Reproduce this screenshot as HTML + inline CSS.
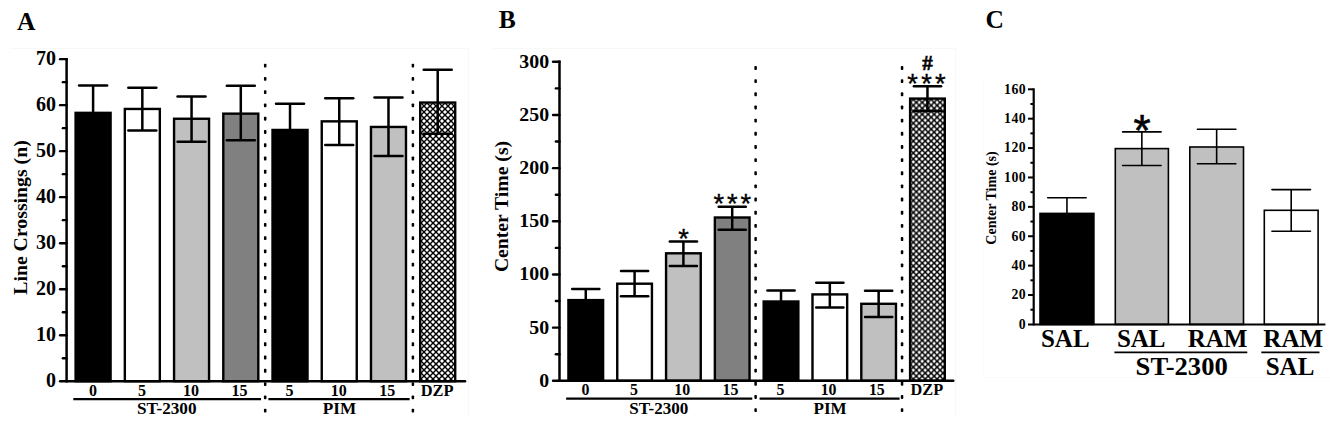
<!DOCTYPE html>
<html><head><meta charset="utf-8"><title>Figure</title>
<style>
html,body{margin:0;padding:0;background:#fff;}
svg{display:block;font-family:"Liberation Serif","Times New Roman",serif;font-weight:bold;fill:#000;}
</style></head><body>
<svg width="1330" height="425" viewBox="0 0 1330 425">
<defs>
<pattern id="hatch" width="6" height="6" patternUnits="userSpaceOnUse" x="1" y="4">
<rect width="6" height="6" fill="#000"/>
<path d="M3,1 L5,3 L3,5 L1,3 Z M0,-2 L2,0 L0,2 L-2,0 Z M6,-2 L8,0 L6,2 L4,0 Z M0,4 L2,6 L0,8 L-2,6 Z M6,4 L8,6 L6,8 L4,6 Z" fill="#fff"/>
</pattern>
<pattern id="hatchB" width="5.95" height="5.95" patternUnits="userSpaceOnUse" x="0" y="4.25">
<rect width="6" height="6" fill="#000"/>
<path d="M3,1.1 L4.9,3 L3,4.9 L1.1,3 Z M0,-1.9 L1.9,0 L0,1.9 L-1.9,0 Z M6,-1.9 L7.9,0 L6,1.9 L4.1,0 Z M0,4.1 L1.9,6 L0,7.9 L-1.9,6 Z M6,4.1 L7.9,6 L6,7.9 L4.1,6 Z" fill="#fff" transform="scale(0.9917)"/>
</pattern>
</defs>
<rect width="1330" height="425" fill="#fff"/>
<g fill="none" stroke="#f8f8f8" stroke-width="1">
<path d="M10,48.5 H468.5 V417"/>
<path d="M492,48.5 H955.5 V417"/>
<path d="M983.5,81 V377.5 H1330" stroke="#fbfbfb"/>
</g>

<rect x="263.95" y="63.65" width="2.5" height="3.9" rx="0.8" fill="#000"/>
<rect x="263.95" y="76.92" width="2.5" height="3.9" rx="0.8" fill="#000"/>
<rect x="263.95" y="90.19" width="2.5" height="3.9" rx="0.8" fill="#000"/>
<rect x="263.95" y="103.46" width="2.5" height="3.9" rx="0.8" fill="#000"/>
<rect x="263.95" y="116.73" width="2.5" height="3.9" rx="0.8" fill="#000"/>
<rect x="263.95" y="130.00" width="2.5" height="3.9" rx="0.8" fill="#000"/>
<rect x="263.95" y="143.27" width="2.5" height="3.9" rx="0.8" fill="#000"/>
<rect x="263.95" y="156.54" width="2.5" height="3.9" rx="0.8" fill="#000"/>
<rect x="263.95" y="169.81" width="2.5" height="3.9" rx="0.8" fill="#000"/>
<rect x="263.95" y="183.08" width="2.5" height="3.9" rx="0.8" fill="#000"/>
<rect x="263.95" y="196.35" width="2.5" height="3.9" rx="0.8" fill="#000"/>
<rect x="263.95" y="209.62" width="2.5" height="3.9" rx="0.8" fill="#000"/>
<rect x="263.95" y="222.89" width="2.5" height="3.9" rx="0.8" fill="#000"/>
<rect x="263.95" y="236.16" width="2.5" height="3.9" rx="0.8" fill="#000"/>
<rect x="263.95" y="249.43" width="2.5" height="3.9" rx="0.8" fill="#000"/>
<rect x="263.95" y="262.70" width="2.5" height="3.9" rx="0.8" fill="#000"/>
<rect x="263.95" y="275.97" width="2.5" height="3.9" rx="0.8" fill="#000"/>
<rect x="263.95" y="289.24" width="2.5" height="3.9" rx="0.8" fill="#000"/>
<rect x="263.95" y="302.51" width="2.5" height="3.9" rx="0.8" fill="#000"/>
<rect x="263.95" y="315.78" width="2.5" height="3.9" rx="0.8" fill="#000"/>
<rect x="263.95" y="329.05" width="2.5" height="3.9" rx="0.8" fill="#000"/>
<rect x="263.95" y="342.32" width="2.5" height="3.9" rx="0.8" fill="#000"/>
<rect x="263.95" y="355.59" width="2.5" height="3.9" rx="0.8" fill="#000"/>
<rect x="263.95" y="368.86" width="2.5" height="3.9" rx="0.8" fill="#000"/>
<rect x="263.95" y="382.13" width="2.5" height="3.9" rx="0.8" fill="#000"/>
<rect x="263.95" y="395.40" width="2.5" height="3.9" rx="0.8" fill="#000"/>
<rect x="263.95" y="408.67" width="2.5" height="3.9" rx="0.8" fill="#000"/>
<rect x="411.65" y="63.65" width="2.5" height="3.9" rx="0.8" fill="#000"/>
<rect x="411.65" y="76.92" width="2.5" height="3.9" rx="0.8" fill="#000"/>
<rect x="411.65" y="90.19" width="2.5" height="3.9" rx="0.8" fill="#000"/>
<rect x="411.65" y="103.46" width="2.5" height="3.9" rx="0.8" fill="#000"/>
<rect x="411.65" y="116.73" width="2.5" height="3.9" rx="0.8" fill="#000"/>
<rect x="411.65" y="130.00" width="2.5" height="3.9" rx="0.8" fill="#000"/>
<rect x="411.65" y="143.27" width="2.5" height="3.9" rx="0.8" fill="#000"/>
<rect x="411.65" y="156.54" width="2.5" height="3.9" rx="0.8" fill="#000"/>
<rect x="411.65" y="169.81" width="2.5" height="3.9" rx="0.8" fill="#000"/>
<rect x="411.65" y="183.08" width="2.5" height="3.9" rx="0.8" fill="#000"/>
<rect x="411.65" y="196.35" width="2.5" height="3.9" rx="0.8" fill="#000"/>
<rect x="411.65" y="209.62" width="2.5" height="3.9" rx="0.8" fill="#000"/>
<rect x="411.65" y="222.89" width="2.5" height="3.9" rx="0.8" fill="#000"/>
<rect x="411.65" y="236.16" width="2.5" height="3.9" rx="0.8" fill="#000"/>
<rect x="411.65" y="249.43" width="2.5" height="3.9" rx="0.8" fill="#000"/>
<rect x="411.65" y="262.70" width="2.5" height="3.9" rx="0.8" fill="#000"/>
<rect x="411.65" y="275.97" width="2.5" height="3.9" rx="0.8" fill="#000"/>
<rect x="411.65" y="289.24" width="2.5" height="3.9" rx="0.8" fill="#000"/>
<rect x="411.65" y="302.51" width="2.5" height="3.9" rx="0.8" fill="#000"/>
<rect x="411.65" y="315.78" width="2.5" height="3.9" rx="0.8" fill="#000"/>
<rect x="411.65" y="329.05" width="2.5" height="3.9" rx="0.8" fill="#000"/>
<rect x="411.65" y="342.32" width="2.5" height="3.9" rx="0.8" fill="#000"/>
<rect x="411.65" y="355.59" width="2.5" height="3.9" rx="0.8" fill="#000"/>
<rect x="411.65" y="368.86" width="2.5" height="3.9" rx="0.8" fill="#000"/>
<rect x="411.65" y="382.13" width="2.5" height="3.9" rx="0.8" fill="#000"/>
<rect x="411.65" y="395.40" width="2.5" height="3.9" rx="0.8" fill="#000"/>
<rect x="411.65" y="408.67" width="2.5" height="3.9" rx="0.8" fill="#000"/>
<rect x="75.60" y="112.85" width="35.00" height="268.35" fill="#000" stroke="#000" stroke-width="2.4"/>
<line x1="93.10" y1="85.40" x2="93.10" y2="112.50" stroke="#000" stroke-width="2.5" stroke-linecap="butt"/>
<line x1="79.10" y1="85.40" x2="107.10" y2="85.40" stroke="#000" stroke-width="2.5" stroke-linecap="round"/>
<rect x="124.83" y="108.95" width="35.00" height="272.25" fill="#fff" stroke="#000" stroke-width="2.4"/>
<line x1="142.33" y1="87.65" x2="142.33" y2="130.50" stroke="#000" stroke-width="2.5" stroke-linecap="butt"/>
<line x1="128.33" y1="87.65" x2="156.33" y2="87.65" stroke="#000" stroke-width="2.5" stroke-linecap="round"/>
<line x1="128.33" y1="130.50" x2="156.33" y2="130.50" stroke="#000" stroke-width="2.5" stroke-linecap="round"/>
<rect x="174.06" y="118.75" width="35.00" height="262.45" fill="#c0c0c0" stroke="#000" stroke-width="2.4"/>
<line x1="191.56" y1="96.50" x2="191.56" y2="141.80" stroke="#000" stroke-width="2.5" stroke-linecap="butt"/>
<line x1="177.56" y1="96.50" x2="205.56" y2="96.50" stroke="#000" stroke-width="2.5" stroke-linecap="round"/>
<line x1="177.56" y1="141.80" x2="205.56" y2="141.80" stroke="#000" stroke-width="2.5" stroke-linecap="round"/>
<rect x="223.29" y="113.65" width="35.00" height="267.55" fill="#808080" stroke="#000" stroke-width="2.4"/>
<line x1="240.79" y1="85.70" x2="240.79" y2="140.30" stroke="#000" stroke-width="2.5" stroke-linecap="butt"/>
<line x1="226.79" y1="85.70" x2="254.79" y2="85.70" stroke="#000" stroke-width="2.5" stroke-linecap="round"/>
<line x1="226.79" y1="140.30" x2="254.79" y2="140.30" stroke="#000" stroke-width="2.5" stroke-linecap="round"/>
<rect x="272.52" y="129.95" width="35.00" height="251.25" fill="#000" stroke="#000" stroke-width="2.4"/>
<line x1="290.02" y1="103.70" x2="290.02" y2="129.60" stroke="#000" stroke-width="2.5" stroke-linecap="butt"/>
<line x1="276.02" y1="103.70" x2="304.02" y2="103.70" stroke="#000" stroke-width="2.5" stroke-linecap="round"/>
<rect x="321.75" y="121.35" width="35.00" height="259.85" fill="#fff" stroke="#000" stroke-width="2.4"/>
<line x1="339.25" y1="98.30" x2="339.25" y2="144.90" stroke="#000" stroke-width="2.5" stroke-linecap="butt"/>
<line x1="325.25" y1="98.30" x2="353.25" y2="98.30" stroke="#000" stroke-width="2.5" stroke-linecap="round"/>
<line x1="325.25" y1="144.90" x2="353.25" y2="144.90" stroke="#000" stroke-width="2.5" stroke-linecap="round"/>
<rect x="370.98" y="126.95" width="35.00" height="254.25" fill="#c0c0c0" stroke="#000" stroke-width="2.4"/>
<line x1="388.48" y1="97.50" x2="388.48" y2="155.90" stroke="#000" stroke-width="2.5" stroke-linecap="butt"/>
<line x1="374.48" y1="97.50" x2="402.48" y2="97.50" stroke="#000" stroke-width="2.5" stroke-linecap="round"/>
<line x1="374.48" y1="155.90" x2="402.48" y2="155.90" stroke="#000" stroke-width="2.5" stroke-linecap="round"/>
<rect x="420.21" y="102.55" width="35.00" height="278.65" fill="url(#hatch)" stroke="#000" stroke-width="2.4"/>
<line x1="437.71" y1="69.70" x2="437.71" y2="133.70" stroke="#000" stroke-width="2.5" stroke-linecap="butt"/>
<line x1="423.71" y1="69.70" x2="451.71" y2="69.70" stroke="#000" stroke-width="2.5" stroke-linecap="round"/>
<line x1="423.71" y1="133.70" x2="451.71" y2="133.70" stroke="#000" stroke-width="2.5" stroke-linecap="round"/>
<line x1="66.60" y1="57.90" x2="66.60" y2="382.45" stroke="#000" stroke-width="2.5" stroke-linecap="butt"/>
<line x1="60.10" y1="381.20" x2="465.00" y2="381.20" stroke="#000" stroke-width="2.5" stroke-linecap="round"/>
<text x="56.10" y="387.20" font-size="20.0" text-anchor="end" >0</text>
<line x1="62.90" y1="358.20" x2="66.60" y2="358.20" stroke="#000" stroke-width="2.4" stroke-linecap="round"/>
<line x1="60.10" y1="335.19" x2="66.60" y2="335.19" stroke="#000" stroke-width="2.4" stroke-linecap="round"/>
<text x="56.10" y="341.19" font-size="20.0" text-anchor="end" >10</text>
<line x1="62.90" y1="312.19" x2="66.60" y2="312.19" stroke="#000" stroke-width="2.4" stroke-linecap="round"/>
<line x1="60.10" y1="289.19" x2="66.60" y2="289.19" stroke="#000" stroke-width="2.4" stroke-linecap="round"/>
<text x="56.10" y="295.19" font-size="20.0" text-anchor="end" >20</text>
<line x1="62.90" y1="266.18" x2="66.60" y2="266.18" stroke="#000" stroke-width="2.4" stroke-linecap="round"/>
<line x1="60.10" y1="243.18" x2="66.60" y2="243.18" stroke="#000" stroke-width="2.4" stroke-linecap="round"/>
<text x="56.10" y="249.18" font-size="20.0" text-anchor="end" >30</text>
<line x1="62.90" y1="220.17" x2="66.60" y2="220.17" stroke="#000" stroke-width="2.4" stroke-linecap="round"/>
<line x1="60.10" y1="197.17" x2="66.60" y2="197.17" stroke="#000" stroke-width="2.4" stroke-linecap="round"/>
<text x="56.10" y="203.17" font-size="20.0" text-anchor="end" >40</text>
<line x1="62.90" y1="174.17" x2="66.60" y2="174.17" stroke="#000" stroke-width="2.4" stroke-linecap="round"/>
<line x1="60.10" y1="151.16" x2="66.60" y2="151.16" stroke="#000" stroke-width="2.4" stroke-linecap="round"/>
<text x="56.10" y="157.16" font-size="20.0" text-anchor="end" >50</text>
<line x1="62.90" y1="128.16" x2="66.60" y2="128.16" stroke="#000" stroke-width="2.4" stroke-linecap="round"/>
<line x1="60.10" y1="105.16" x2="66.60" y2="105.16" stroke="#000" stroke-width="2.4" stroke-linecap="round"/>
<text x="56.10" y="111.16" font-size="20.0" text-anchor="end" >60</text>
<line x1="62.90" y1="82.15" x2="66.60" y2="82.15" stroke="#000" stroke-width="2.4" stroke-linecap="round"/>
<line x1="60.10" y1="59.15" x2="66.60" y2="59.15" stroke="#000" stroke-width="2.4" stroke-linecap="round"/>
<text x="56.10" y="65.15" font-size="20.0" text-anchor="end" >70</text>
<text x="93.10" y="395.80" font-size="16.0" text-anchor="middle" >0</text>
<text x="141.93" y="395.80" font-size="16.0" text-anchor="middle" >5</text>
<text x="190.96" y="395.80" font-size="16.0" text-anchor="middle" >10</text>
<text x="239.59" y="395.80" font-size="16.0" text-anchor="middle" >15</text>
<text x="289.62" y="395.80" font-size="16.0" text-anchor="middle" >5</text>
<text x="338.65" y="395.80" font-size="16.0" text-anchor="middle" >10</text>
<text x="387.28" y="395.80" font-size="16.0" text-anchor="middle" >15</text>
<text x="437.11" y="395.80" font-size="16.4" text-anchor="middle" >DZP</text>
<line x1="73.30" y1="399.10" x2="261.00" y2="399.10" stroke="#000" stroke-width="2.2" stroke-linecap="butt"/>
<line x1="268.40" y1="399.10" x2="409.60" y2="399.10" stroke="#000" stroke-width="2.2" stroke-linecap="butt"/>
<text x="166.80" y="414.20" font-size="17.2" text-anchor="middle" >ST-2300</text>
<text x="339.50" y="414.20" font-size="17.2" text-anchor="middle" >PIM</text>
<text transform="translate(26.90,217.50) rotate(-90)" font-size="18.8" text-anchor="middle" textLength="154.6" lengthAdjust="spacingAndGlyphs">Line Crossings (n)</text>
<text x="17.00" y="29.60" font-size="25.5" text-anchor="start" >A</text>
<rect x="754.36" y="66.05" width="2.5" height="3.9" rx="0.8" fill="#000"/>
<rect x="754.36" y="79.21" width="2.5" height="3.9" rx="0.8" fill="#000"/>
<rect x="754.36" y="92.36" width="2.5" height="3.9" rx="0.8" fill="#000"/>
<rect x="754.36" y="105.52" width="2.5" height="3.9" rx="0.8" fill="#000"/>
<rect x="754.36" y="118.68" width="2.5" height="3.9" rx="0.8" fill="#000"/>
<rect x="754.36" y="131.84" width="2.5" height="3.9" rx="0.8" fill="#000"/>
<rect x="754.36" y="144.99" width="2.5" height="3.9" rx="0.8" fill="#000"/>
<rect x="754.36" y="158.15" width="2.5" height="3.9" rx="0.8" fill="#000"/>
<rect x="754.36" y="171.31" width="2.5" height="3.9" rx="0.8" fill="#000"/>
<rect x="754.36" y="184.46" width="2.5" height="3.9" rx="0.8" fill="#000"/>
<rect x="754.36" y="197.62" width="2.5" height="3.9" rx="0.8" fill="#000"/>
<rect x="754.36" y="210.78" width="2.5" height="3.9" rx="0.8" fill="#000"/>
<rect x="754.36" y="223.94" width="2.5" height="3.9" rx="0.8" fill="#000"/>
<rect x="754.36" y="237.09" width="2.5" height="3.9" rx="0.8" fill="#000"/>
<rect x="754.36" y="250.25" width="2.5" height="3.9" rx="0.8" fill="#000"/>
<rect x="754.36" y="263.41" width="2.5" height="3.9" rx="0.8" fill="#000"/>
<rect x="754.36" y="276.57" width="2.5" height="3.9" rx="0.8" fill="#000"/>
<rect x="754.36" y="289.72" width="2.5" height="3.9" rx="0.8" fill="#000"/>
<rect x="754.36" y="302.88" width="2.5" height="3.9" rx="0.8" fill="#000"/>
<rect x="754.36" y="316.04" width="2.5" height="3.9" rx="0.8" fill="#000"/>
<rect x="754.36" y="329.19" width="2.5" height="3.9" rx="0.8" fill="#000"/>
<rect x="754.36" y="342.35" width="2.5" height="3.9" rx="0.8" fill="#000"/>
<rect x="754.36" y="355.51" width="2.5" height="3.9" rx="0.8" fill="#000"/>
<rect x="754.36" y="368.67" width="2.5" height="3.9" rx="0.8" fill="#000"/>
<rect x="754.36" y="381.82" width="2.5" height="3.9" rx="0.8" fill="#000"/>
<rect x="754.36" y="394.98" width="2.5" height="3.9" rx="0.8" fill="#000"/>
<rect x="754.36" y="408.14" width="2.5" height="3.9" rx="0.8" fill="#000"/>
<rect x="900.81" y="66.05" width="2.5" height="3.9" rx="0.8" fill="#000"/>
<rect x="900.81" y="79.21" width="2.5" height="3.9" rx="0.8" fill="#000"/>
<rect x="900.81" y="92.36" width="2.5" height="3.9" rx="0.8" fill="#000"/>
<rect x="900.81" y="105.52" width="2.5" height="3.9" rx="0.8" fill="#000"/>
<rect x="900.81" y="118.68" width="2.5" height="3.9" rx="0.8" fill="#000"/>
<rect x="900.81" y="131.84" width="2.5" height="3.9" rx="0.8" fill="#000"/>
<rect x="900.81" y="144.99" width="2.5" height="3.9" rx="0.8" fill="#000"/>
<rect x="900.81" y="158.15" width="2.5" height="3.9" rx="0.8" fill="#000"/>
<rect x="900.81" y="171.31" width="2.5" height="3.9" rx="0.8" fill="#000"/>
<rect x="900.81" y="184.46" width="2.5" height="3.9" rx="0.8" fill="#000"/>
<rect x="900.81" y="197.62" width="2.5" height="3.9" rx="0.8" fill="#000"/>
<rect x="900.81" y="210.78" width="2.5" height="3.9" rx="0.8" fill="#000"/>
<rect x="900.81" y="223.94" width="2.5" height="3.9" rx="0.8" fill="#000"/>
<rect x="900.81" y="237.09" width="2.5" height="3.9" rx="0.8" fill="#000"/>
<rect x="900.81" y="250.25" width="2.5" height="3.9" rx="0.8" fill="#000"/>
<rect x="900.81" y="263.41" width="2.5" height="3.9" rx="0.8" fill="#000"/>
<rect x="900.81" y="276.57" width="2.5" height="3.9" rx="0.8" fill="#000"/>
<rect x="900.81" y="289.72" width="2.5" height="3.9" rx="0.8" fill="#000"/>
<rect x="900.81" y="302.88" width="2.5" height="3.9" rx="0.8" fill="#000"/>
<rect x="900.81" y="316.04" width="2.5" height="3.9" rx="0.8" fill="#000"/>
<rect x="900.81" y="329.19" width="2.5" height="3.9" rx="0.8" fill="#000"/>
<rect x="900.81" y="342.35" width="2.5" height="3.9" rx="0.8" fill="#000"/>
<rect x="900.81" y="355.51" width="2.5" height="3.9" rx="0.8" fill="#000"/>
<rect x="900.81" y="368.67" width="2.5" height="3.9" rx="0.8" fill="#000"/>
<rect x="900.81" y="381.82" width="2.5" height="3.9" rx="0.8" fill="#000"/>
<rect x="900.81" y="394.98" width="2.5" height="3.9" rx="0.8" fill="#000"/>
<rect x="900.81" y="408.14" width="2.5" height="3.9" rx="0.8" fill="#000"/>
<rect x="568.43" y="300.10" width="34.68" height="80.70" fill="#000" stroke="#000" stroke-width="2.4"/>
<line x1="585.77" y1="289.10" x2="585.77" y2="299.90" stroke="#000" stroke-width="2.5" stroke-linecap="butt"/>
<line x1="572.17" y1="289.10" x2="599.37" y2="289.10" stroke="#000" stroke-width="2.5" stroke-linecap="round"/>
<rect x="617.25" y="283.70" width="34.68" height="97.10" fill="#fff" stroke="#000" stroke-width="2.4"/>
<line x1="634.59" y1="270.90" x2="634.59" y2="296.30" stroke="#000" stroke-width="2.5" stroke-linecap="butt"/>
<line x1="620.99" y1="270.90" x2="648.19" y2="270.90" stroke="#000" stroke-width="2.5" stroke-linecap="round"/>
<line x1="620.99" y1="296.30" x2="648.19" y2="296.30" stroke="#000" stroke-width="2.5" stroke-linecap="round"/>
<rect x="666.06" y="253.30" width="34.68" height="127.50" fill="#c0c0c0" stroke="#000" stroke-width="2.4"/>
<line x1="683.40" y1="241.40" x2="683.40" y2="265.90" stroke="#000" stroke-width="2.5" stroke-linecap="butt"/>
<line x1="669.80" y1="241.40" x2="697.00" y2="241.40" stroke="#000" stroke-width="2.5" stroke-linecap="round"/>
<line x1="669.80" y1="265.90" x2="697.00" y2="265.90" stroke="#000" stroke-width="2.5" stroke-linecap="round"/>
<rect x="714.87" y="217.50" width="34.68" height="163.30" fill="#808080" stroke="#000" stroke-width="2.4"/>
<line x1="732.21" y1="206.80" x2="732.21" y2="229.70" stroke="#000" stroke-width="2.5" stroke-linecap="butt"/>
<line x1="718.61" y1="206.80" x2="745.81" y2="206.80" stroke="#000" stroke-width="2.5" stroke-linecap="round"/>
<line x1="718.61" y1="229.70" x2="745.81" y2="229.70" stroke="#000" stroke-width="2.5" stroke-linecap="round"/>
<rect x="763.68" y="301.50" width="34.68" height="79.30" fill="#000" stroke="#000" stroke-width="2.4"/>
<line x1="781.02" y1="290.40" x2="781.02" y2="301.30" stroke="#000" stroke-width="2.5" stroke-linecap="butt"/>
<line x1="767.42" y1="290.40" x2="794.62" y2="290.40" stroke="#000" stroke-width="2.5" stroke-linecap="round"/>
<rect x="812.49" y="294.40" width="34.68" height="86.40" fill="#fff" stroke="#000" stroke-width="2.4"/>
<line x1="829.83" y1="282.70" x2="829.83" y2="307.50" stroke="#000" stroke-width="2.5" stroke-linecap="butt"/>
<line x1="816.23" y1="282.70" x2="843.43" y2="282.70" stroke="#000" stroke-width="2.5" stroke-linecap="round"/>
<line x1="816.23" y1="307.50" x2="843.43" y2="307.50" stroke="#000" stroke-width="2.5" stroke-linecap="round"/>
<rect x="861.30" y="303.80" width="34.68" height="77.00" fill="#c0c0c0" stroke="#000" stroke-width="2.4"/>
<line x1="878.64" y1="290.80" x2="878.64" y2="317.10" stroke="#000" stroke-width="2.5" stroke-linecap="butt"/>
<line x1="865.04" y1="290.80" x2="892.24" y2="290.80" stroke="#000" stroke-width="2.5" stroke-linecap="round"/>
<line x1="865.04" y1="317.10" x2="892.24" y2="317.10" stroke="#000" stroke-width="2.5" stroke-linecap="round"/>
<rect x="910.11" y="98.60" width="34.68" height="282.20" fill="url(#hatchB)" stroke="#000" stroke-width="2.4"/>
<line x1="927.46" y1="86.25" x2="927.46" y2="111.10" stroke="#000" stroke-width="2.5" stroke-linecap="butt"/>
<line x1="913.86" y1="86.25" x2="941.06" y2="86.25" stroke="#000" stroke-width="2.5" stroke-linecap="round"/>
<line x1="913.86" y1="111.10" x2="941.06" y2="111.10" stroke="#000" stroke-width="2.5" stroke-linecap="round"/>
<line x1="559.50" y1="60.55" x2="559.50" y2="382.05" stroke="#000" stroke-width="2.5" stroke-linecap="butt"/>
<line x1="553.06" y1="380.80" x2="953.31" y2="380.80" stroke="#000" stroke-width="2.5" stroke-linecap="round"/>
<text x="549.09" y="386.80" font-size="19.830000000000002" text-anchor="end" >0</text>
<line x1="555.84" y1="354.22" x2="559.50" y2="354.22" stroke="#000" stroke-width="2.4" stroke-linecap="round"/>
<line x1="553.06" y1="327.63" x2="559.50" y2="327.63" stroke="#000" stroke-width="2.4" stroke-linecap="round"/>
<text x="549.09" y="333.63" font-size="19.830000000000002" text-anchor="end" >50</text>
<line x1="555.84" y1="301.05" x2="559.50" y2="301.05" stroke="#000" stroke-width="2.4" stroke-linecap="round"/>
<line x1="553.06" y1="274.47" x2="559.50" y2="274.47" stroke="#000" stroke-width="2.4" stroke-linecap="round"/>
<text x="549.09" y="280.47" font-size="19.830000000000002" text-anchor="end" >100</text>
<line x1="555.84" y1="247.88" x2="559.50" y2="247.88" stroke="#000" stroke-width="2.4" stroke-linecap="round"/>
<line x1="553.06" y1="221.30" x2="559.50" y2="221.30" stroke="#000" stroke-width="2.4" stroke-linecap="round"/>
<text x="549.09" y="227.30" font-size="19.830000000000002" text-anchor="end" >150</text>
<line x1="555.84" y1="194.72" x2="559.50" y2="194.72" stroke="#000" stroke-width="2.4" stroke-linecap="round"/>
<line x1="553.06" y1="168.13" x2="559.50" y2="168.13" stroke="#000" stroke-width="2.4" stroke-linecap="round"/>
<text x="549.09" y="174.13" font-size="19.830000000000002" text-anchor="end" >200</text>
<line x1="555.84" y1="141.55" x2="559.50" y2="141.55" stroke="#000" stroke-width="2.4" stroke-linecap="round"/>
<line x1="553.06" y1="114.97" x2="559.50" y2="114.97" stroke="#000" stroke-width="2.4" stroke-linecap="round"/>
<text x="549.09" y="120.97" font-size="19.830000000000002" text-anchor="end" >250</text>
<line x1="555.84" y1="88.38" x2="559.50" y2="88.38" stroke="#000" stroke-width="2.4" stroke-linecap="round"/>
<line x1="553.06" y1="61.80" x2="559.50" y2="61.80" stroke="#000" stroke-width="2.4" stroke-linecap="round"/>
<text x="549.09" y="67.80" font-size="19.830000000000002" text-anchor="end" >300</text>
<text x="585.37" y="395.40" font-size="15.864" text-anchor="middle" >0</text>
<text x="634.09" y="395.40" font-size="15.864" text-anchor="middle" >5</text>
<text x="682.20" y="395.40" font-size="15.864" text-anchor="middle" >10</text>
<text x="730.41" y="395.40" font-size="15.864" text-anchor="middle" >15</text>
<text x="780.52" y="395.40" font-size="15.864" text-anchor="middle" >5</text>
<text x="828.63" y="395.40" font-size="15.864" text-anchor="middle" >10</text>
<text x="876.84" y="395.40" font-size="15.864" text-anchor="middle" >15</text>
<text x="926.86" y="395.40" font-size="16.2606" text-anchor="middle" >DZP</text>
<line x1="566.14" y1="398.70" x2="752.25" y2="398.70" stroke="#000" stroke-width="2.2" stroke-linecap="butt"/>
<line x1="759.58" y1="398.70" x2="899.58" y2="398.70" stroke="#000" stroke-width="2.2" stroke-linecap="butt"/>
<text x="658.85" y="413.52" font-size="17.0538" text-anchor="middle" >ST-2300</text>
<text x="830.08" y="413.52" font-size="17.0538" text-anchor="middle" >PIM</text>
<text transform="translate(508.40,206.50) rotate(-90)" font-size="18.8" text-anchor="middle" textLength="131.2" lengthAdjust="spacingAndGlyphs">Center Time (s)</text>
<text x="498.80" y="27.80" font-size="25.5" text-anchor="start" >B</text>
<text x="683.60" y="248.00" font-size="27.4" text-anchor="middle" font-family="Liberation Sans" font-weight="normal" stroke="#000" stroke-width="0.35">*</text>
<text x="733.80" y="213.30" font-size="27.4" text-anchor="middle" font-family="Liberation Sans" font-weight="normal" stroke="#000" stroke-width="0.35" letter-spacing="2.95">***</text>
<text x="928.10" y="92.80" font-size="27.4" text-anchor="middle" font-family="Liberation Sans" font-weight="normal" stroke="#000" stroke-width="0.35" letter-spacing="3.2">***</text>
<text x="927.60" y="69.90" font-size="21" text-anchor="middle" stroke="#000" stroke-width="0.55">#</text>
<rect x="1040.00" y="213.40" width="53.90" height="111.00" fill="#000" stroke="#000" stroke-width="1.6"/>
<line x1="1066.95" y1="197.80" x2="1066.95" y2="213.60" stroke="#000" stroke-width="1.6" stroke-linecap="butt"/>
<line x1="1047.70" y1="197.80" x2="1086.20" y2="197.80" stroke="#000" stroke-width="1.6" stroke-linecap="round"/>
<rect x="1115.30" y="148.60" width="53.10" height="175.80" fill="#c0c0c0" stroke="#000" stroke-width="1.6"/>
<line x1="1141.85" y1="131.90" x2="1141.85" y2="165.50" stroke="#000" stroke-width="1.6" stroke-linecap="butt"/>
<line x1="1122.60" y1="131.90" x2="1161.10" y2="131.90" stroke="#000" stroke-width="1.6" stroke-linecap="round"/>
<line x1="1122.60" y1="165.50" x2="1161.10" y2="165.50" stroke="#000" stroke-width="1.6" stroke-linecap="round"/>
<rect x="1189.80" y="147.00" width="53.70" height="177.40" fill="#c0c0c0" stroke="#000" stroke-width="1.6"/>
<line x1="1216.65" y1="129.20" x2="1216.65" y2="163.80" stroke="#000" stroke-width="1.6" stroke-linecap="butt"/>
<line x1="1197.40" y1="129.20" x2="1235.90" y2="129.20" stroke="#000" stroke-width="1.6" stroke-linecap="round"/>
<line x1="1197.40" y1="163.80" x2="1235.90" y2="163.80" stroke="#000" stroke-width="1.6" stroke-linecap="round"/>
<rect x="1264.30" y="210.30" width="53.80" height="114.10" fill="#fff" stroke="#000" stroke-width="1.6"/>
<line x1="1291.20" y1="189.60" x2="1291.20" y2="231.20" stroke="#000" stroke-width="1.6" stroke-linecap="butt"/>
<line x1="1271.95" y1="189.60" x2="1310.45" y2="189.60" stroke="#000" stroke-width="1.6" stroke-linecap="round"/>
<line x1="1271.95" y1="231.20" x2="1310.45" y2="231.20" stroke="#000" stroke-width="1.6" stroke-linecap="round"/>
<line x1="1033.70" y1="88.30" x2="1033.70" y2="325.40" stroke="#000" stroke-width="2.2" stroke-linecap="butt"/>
<line x1="1028.00" y1="324.40" x2="1325.40" y2="324.40" stroke="#000" stroke-width="2.0" stroke-linecap="butt"/>
<text x="1026.20" y="328.70" font-size="13.8" text-anchor="end" letter-spacing="0.5">0</text>
<line x1="1030.40" y1="309.71" x2="1033.70" y2="309.71" stroke="#000" stroke-width="2.0" stroke-linecap="butt"/>
<line x1="1028.00" y1="295.01" x2="1033.70" y2="295.01" stroke="#000" stroke-width="2.0" stroke-linecap="butt"/>
<text x="1026.20" y="299.31" font-size="13.8" text-anchor="end" letter-spacing="0.5">20</text>
<line x1="1030.40" y1="280.32" x2="1033.70" y2="280.32" stroke="#000" stroke-width="2.0" stroke-linecap="butt"/>
<line x1="1028.00" y1="265.62" x2="1033.70" y2="265.62" stroke="#000" stroke-width="2.0" stroke-linecap="butt"/>
<text x="1026.20" y="269.93" font-size="13.8" text-anchor="end" letter-spacing="0.5">40</text>
<line x1="1030.40" y1="250.93" x2="1033.70" y2="250.93" stroke="#000" stroke-width="2.0" stroke-linecap="butt"/>
<line x1="1028.00" y1="236.24" x2="1033.70" y2="236.24" stroke="#000" stroke-width="2.0" stroke-linecap="butt"/>
<text x="1026.20" y="240.54" font-size="13.8" text-anchor="end" letter-spacing="0.5">60</text>
<line x1="1030.40" y1="221.54" x2="1033.70" y2="221.54" stroke="#000" stroke-width="2.0" stroke-linecap="butt"/>
<line x1="1028.00" y1="206.85" x2="1033.70" y2="206.85" stroke="#000" stroke-width="2.0" stroke-linecap="butt"/>
<text x="1026.20" y="211.15" font-size="13.8" text-anchor="end" letter-spacing="0.5">80</text>
<line x1="1030.40" y1="192.16" x2="1033.70" y2="192.16" stroke="#000" stroke-width="2.0" stroke-linecap="butt"/>
<line x1="1028.00" y1="177.46" x2="1033.70" y2="177.46" stroke="#000" stroke-width="2.0" stroke-linecap="butt"/>
<text x="1026.20" y="181.76" font-size="13.8" text-anchor="end" letter-spacing="0.5">100</text>
<line x1="1030.40" y1="162.77" x2="1033.70" y2="162.77" stroke="#000" stroke-width="2.0" stroke-linecap="butt"/>
<line x1="1028.00" y1="148.07" x2="1033.70" y2="148.07" stroke="#000" stroke-width="2.0" stroke-linecap="butt"/>
<text x="1026.20" y="152.38" font-size="13.8" text-anchor="end" letter-spacing="0.5">120</text>
<line x1="1030.40" y1="133.38" x2="1033.70" y2="133.38" stroke="#000" stroke-width="2.0" stroke-linecap="butt"/>
<line x1="1028.00" y1="118.69" x2="1033.70" y2="118.69" stroke="#000" stroke-width="2.0" stroke-linecap="butt"/>
<text x="1026.20" y="122.99" font-size="13.8" text-anchor="end" letter-spacing="0.5">140</text>
<line x1="1030.40" y1="103.99" x2="1033.70" y2="103.99" stroke="#000" stroke-width="2.0" stroke-linecap="butt"/>
<line x1="1028.00" y1="89.30" x2="1033.70" y2="89.30" stroke="#000" stroke-width="2.0" stroke-linecap="butt"/>
<text x="1026.20" y="93.60" font-size="13.8" text-anchor="end" letter-spacing="0.5">160</text>
<text transform="translate(996.20,198.00) rotate(-90)" font-size="14" text-anchor="middle">Center Time (s)</text>
<text x="985.50" y="28.10" font-size="25.5" text-anchor="start" >C</text>
<text x="1065.30" y="347.10" font-size="25" text-anchor="middle" >SAL</text>
<text x="1141.20" y="347.10" font-size="25" text-anchor="middle" >SAL</text>
<text x="1217.50" y="347.10" font-size="25" text-anchor="middle" >RAM</text>
<text x="1293.20" y="347.10" font-size="25" text-anchor="middle" >RAM</text>
<line x1="1114.40" y1="352.40" x2="1247.30" y2="352.40" stroke="#000" stroke-width="1.6" stroke-linecap="butt"/>
<line x1="1261.30" y1="352.40" x2="1319.50" y2="352.40" stroke="#000" stroke-width="1.6" stroke-linecap="butt"/>
<text x="1181.70" y="375.10" font-size="25" text-anchor="middle" textLength="92.2" lengthAdjust="spacingAndGlyphs">ST-2300</text>
<text x="1290.00" y="375.10" font-size="25" text-anchor="middle" >SAL</text>
<text x="1142.10" y="145.50" font-size="44" text-anchor="middle" font-family="Liberation Sans" font-weight="normal" stroke="#000" stroke-width="0.6">*</text>
</svg></body></html>
